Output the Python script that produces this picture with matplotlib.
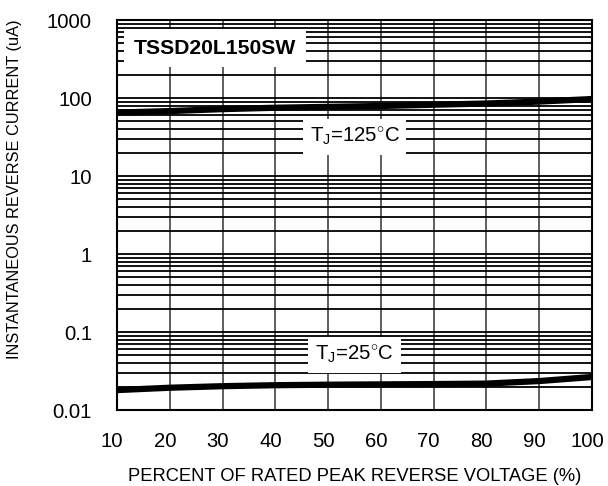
import matplotlib
matplotlib.use("Agg")
import matplotlib.pyplot as plt
import matplotlib.transforms as mtransforms
import numpy as np

plt.rcParams['font.family'] = ['Liberation Sans', 'DejaVu Sans']
plt.rcParams['mathtext.fontset'] = 'custom'
plt.rcParams['mathtext.rm'] = 'Liberation Sans'

voltage = [10, 20, 30, 40, 50, 60, 70, 80, 90, 100]
current_125 = [65, 68, 72, 75, 77, 79, 82, 85, 90, 97]
current_25 = [0.018, 0.0193, 0.0202, 0.0208, 0.0211, 0.0213, 0.0215, 0.0218, 0.0235, 0.0265]
x_ticks = [10, 20, 30, 40, 50, 60, 70, 80, 90, 100]
y_ticks = [0.01, 0.1, 1, 10, 100, 1000]
y_tick_labels = ['0.01', '0.1', '1', '10', '100', '1000']

fig = plt.figure(figsize=(6.08, 4.86), dpi=100)
ax = fig.add_axes([117/608, 1 - 410/486, 475/608, 390/486])
ax.set_yscale('log')
ax.set_xlim(10, 100)
ax.set_ylim(0.01, 1000)

# grid
for xv in x_ticks:
    ax.axvline(xv, color='#333333', lw=1.1, zorder=1)
for dec in [0.01, 0.1, 1, 10, 100]:
    for m in range(1, 10):
        ax.axhline(dec * m, color='black', lw=1.3, zorder=1)
ax.axhline(1000, color='black', lw=1.3, zorder=1)

ax.plot(voltage, current_125, color='black', lw=4.5, zorder=3, solid_capstyle='butt')
ax.plot(voltage, current_25, color='black', lw=4.5, zorder=3, solid_capstyle='butt')

ax.set_xticks(x_ticks)
ax.set_xticklabels([str(v) for v in x_ticks])
ax.set_yticks(y_ticks)
ax.set_yticklabels(y_tick_labels)
ax.yaxis.set_minor_locator(matplotlib.ticker.NullLocator())
ax.tick_params(axis='both', length=0, labelsize=14.6)
ax.tick_params(axis='x', pad=16)
ax.tick_params(axis='y', pad=18)
offset = mtransforms.ScaledTranslation(-5/100, 0, fig.dpi_scale_trans)
for lbl in ax.get_xticklabels():
    lbl.set_transform(lbl.get_transform() + offset)
for s in ax.spines.values():
    s.set_linewidth(1.5)
    s.set_zorder(5)

ax.set_xlabel('PERCENT OF RATED PEAK REVERSE VOLTAGE (%)', fontsize=13.2, labelpad=12)
ax.set_ylabel('INSTANTANEOUS REVERSE CURRENT (uA)', fontsize=11.8)
ax.yaxis.set_label_coords(-0.2, 0.567)

ax.text(0.035, 0.928, 'TSSD20L150SW', transform=ax.transAxes, fontsize=15.2,
        fontweight='bold', ha='left', va='center', zorder=4,
        bbox=dict(facecolor='white', edgecolor='none', pad=7))
ax.text(0.5, 0.70, r'T$_\mathregular{J}$=125$^{\circ}$C', transform=ax.transAxes,
        fontsize=14.7, ha='center', va='center', zorder=4,
        bbox=dict(facecolor='white', edgecolor='none', pad=5))
ax.text(0.5, 0.141, r'T$_\mathregular{J}$=25$^{\circ}$C', transform=ax.transAxes,
        fontsize=14.7, ha='center', va='center', zorder=4,
        bbox=dict(facecolor='white', edgecolor='none', pad=5))

fig.savefig('out.png', dpi=100)
